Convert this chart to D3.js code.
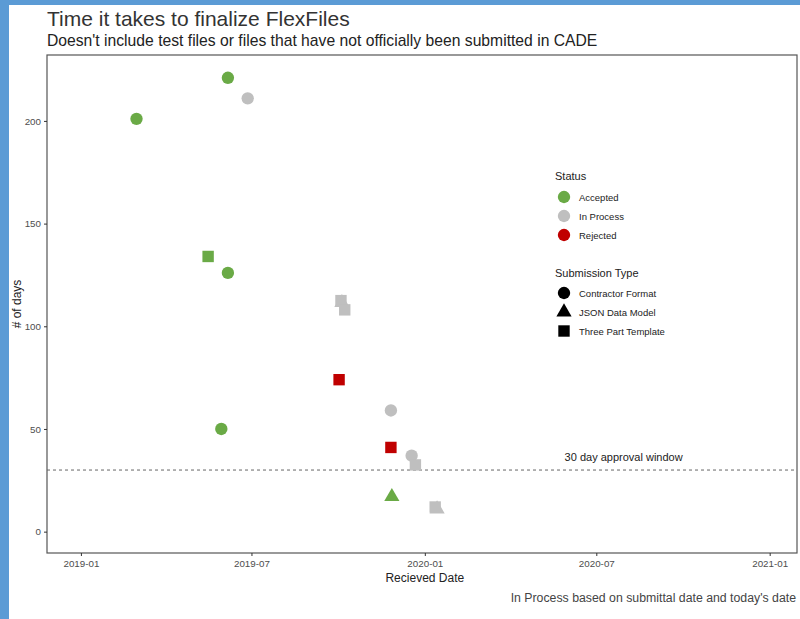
<!DOCTYPE html>
<html><head><meta charset="utf-8">
<script src="https://cdn.jsdelivr.net/npm/d3@7"></script>
<style>body{margin:0;background:#fff;} svg{display:block;font-family:"Liberation Sans",Arial,sans-serif;}</style>
</head><body>
<svg id="c" width="800" height="619"></svg>
<script>
// Data
const dates   = ["2019-03-01","2019-06-06","2019-06-06","2019-05-30","2019-06-27","2019-05-16","2019-10-05","2019-10-04","2019-10-08","2019-10-02","2019-11-26","2019-11-26","2019-11-27","2019-12-18","2019-12-22","2020-01-14","2020-01-12"];
const days    = [201, 221, 126, 50, 211, 134, 111.5, 112.5, 108, 74, 59, 41, 17, 37, 32.5, 11, 12];
const status  = ["Accepted","Accepted","Accepted","Accepted","In Process","Accepted","In Process","In Process","In Process","Rejected","In Process","Rejected","Accepted","In Process","In Process","In Process","In Process"];
const subType = ["Contractor Format","Contractor Format","Contractor Format","Contractor Format","Contractor Format","Three Part Template","JSON Data Model","Three Part Template","Three Part Template","Three Part Template","Contractor Format","Three Part Template","JSON Data Model","Contractor Format","Three Part Template","JSON Data Model","Three Part Template"];
const statusLevels = ["Accepted","In Process","Rejected"];
const statusColors = ["#6AAA46","#BFBFBF","#C00000"];
const typeLevels = ["Contractor Format","JSON Data Model","Three Part Template"];
const xTicks = ["2019-01-01","2019-07-01","2020-01-01","2020-07-01","2021-01-01"];
const yTicks = [0, 50, 100, 150, 200];
const approvalDays = 30;

const parse = d3.timeParse("%Y-%m-%d");
const svg = d3.select("#c");

// frame decoration
svg.append("rect").attr("x",0).attr("y",0).attr("width",800).attr("height",5).attr("fill","#5B9BD5");
svg.append("rect").attr("x",0).attr("y",0).attr("width",9).attr("height",619).attr("fill","#5B9BD5");

const L=47, T=55, R=797, B=553;
const x = d3.scaleTime().domain([parse("2018-11-26"), parse("2021-01-30")]).range([L,R]);
const y = d3.scaleLinear().domain([-10.4, 232.1]).range([B,T]);
const color = d3.scaleOrdinal().domain(statusLevels).range(statusColors);
const shapeSym = d3.scaleOrdinal().domain(typeLevels).range([d3.symbolCircle, d3.symbolTriangle, d3.symbolSquare]);
const shapeSize = d3.scaleOrdinal().domain(typeLevels).range([120, 100, 130]);

// titles
svg.append("text").attr("x",L).attr("y",26).attr("font-size",21).attr("fill","#333").text("Time it takes to finalize FlexFiles");
svg.append("text").attr("x",L).attr("y",46).attr("font-size",15.7).attr("fill","#222").text("Doesn't include test files or files that have not officially been submitted in CADE");

// panel
svg.append("rect").attr("x",L).attr("y",T).attr("width",R-L).attr("height",B-T).attr("fill","#fff").attr("stroke","#555").attr("stroke-width",1.2);

// axes
const xAxis = d3.axisBottom(x).tickValues(xTicks.map(parse)).tickFormat(d3.timeFormat("%Y-%m")).tickSize(3).tickPadding(4);
const gx = svg.append("g").attr("transform",`translate(0,${B})`).call(xAxis);
const yAxis = d3.axisLeft(y).tickValues(yTicks).tickSize(3).tickPadding(3);
const gy = svg.append("g").attr("transform",`translate(${L},0)`).call(yAxis);
[gx,gy].forEach(g=>{
  g.select(".domain").remove();
  g.selectAll(".tick line").attr("stroke","#333");
  g.selectAll(".tick text").attr("fill","#4D4D4D").attr("font-size",9.8).attr("font-family","Liberation Sans, Arial, sans-serif");
});

// hline
svg.append("line").attr("x1",L).attr("x2",R).attr("y1",y(approvalDays)).attr("y2",y(approvalDays))
  .attr("stroke","#666").attr("stroke-width",1).attr("stroke-dasharray","3,3");
svg.append("text").attr("x",x(parse("2020-07-30"))).attr("y",y(approvalDays)-9).attr("text-anchor","middle")
  .attr("font-size",11).attr("fill","#222").text("30 day approval window");

// points
const data = dates.map((d,i)=>({date:parse(d), days:days[i], status:status[i], type:subType[i]}));
svg.append("g").selectAll("path").data(data).join("path")
  .attr("transform",d=>`translate(${x(d.date)},${y(d.days)})`)
  .attr("d",d=>d3.symbol().type(shapeSym(d.type)).size(shapeSize(d.type))())
  .attr("fill",d=>color(d.status));

// axis titles
svg.append("text").attr("x",x(parse("2020-01-01"))).attr("y",582).attr("text-anchor","middle").attr("font-size",12).attr("fill","#222").text("Recieved Date");
svg.append("text").attr("transform",`translate(21,${(T+B)/2}) rotate(-90)`).attr("text-anchor","middle").attr("font-size",12).attr("fill","#222").text("# of days");
svg.append("text").attr("x",796).attr("y",602).attr("text-anchor","end").attr("font-size",12.3).attr("fill","#444").text("In Process based on submittal date and today's date");

// legends
const lg = svg.append("g");
lg.append("text").attr("x",555).attr("y",180).attr("font-size",11).attr("fill","#222").text("Status");
statusLevels.forEach((s,i)=>{
  const yy = 197 + i*19;
  lg.append("path").attr("transform",`translate(564,${yy})`).attr("d",d3.symbol().type(d3.symbolCircle).size(120)()).attr("fill",color(s));
  lg.append("text").attr("x",579).attr("y",yy+3.5).attr("font-size",9.5).attr("fill","#222").text(s);
});
lg.append("text").attr("x",555).attr("y",277).attr("font-size",11).attr("fill","#222").text("Submission Type");
typeLevels.forEach((s,i)=>{
  const yy = 293 + i*19;
  lg.append("path").attr("transform",`translate(564,${yy})`).attr("d",d3.symbol().type(shapeSym(s)).size(shapeSize(s))()).attr("fill","#000");
  lg.append("text").attr("x",579).attr("y",yy+3.5).attr("font-size",9.5).attr("fill","#222").text(s);
});
</script>
</body></html>
